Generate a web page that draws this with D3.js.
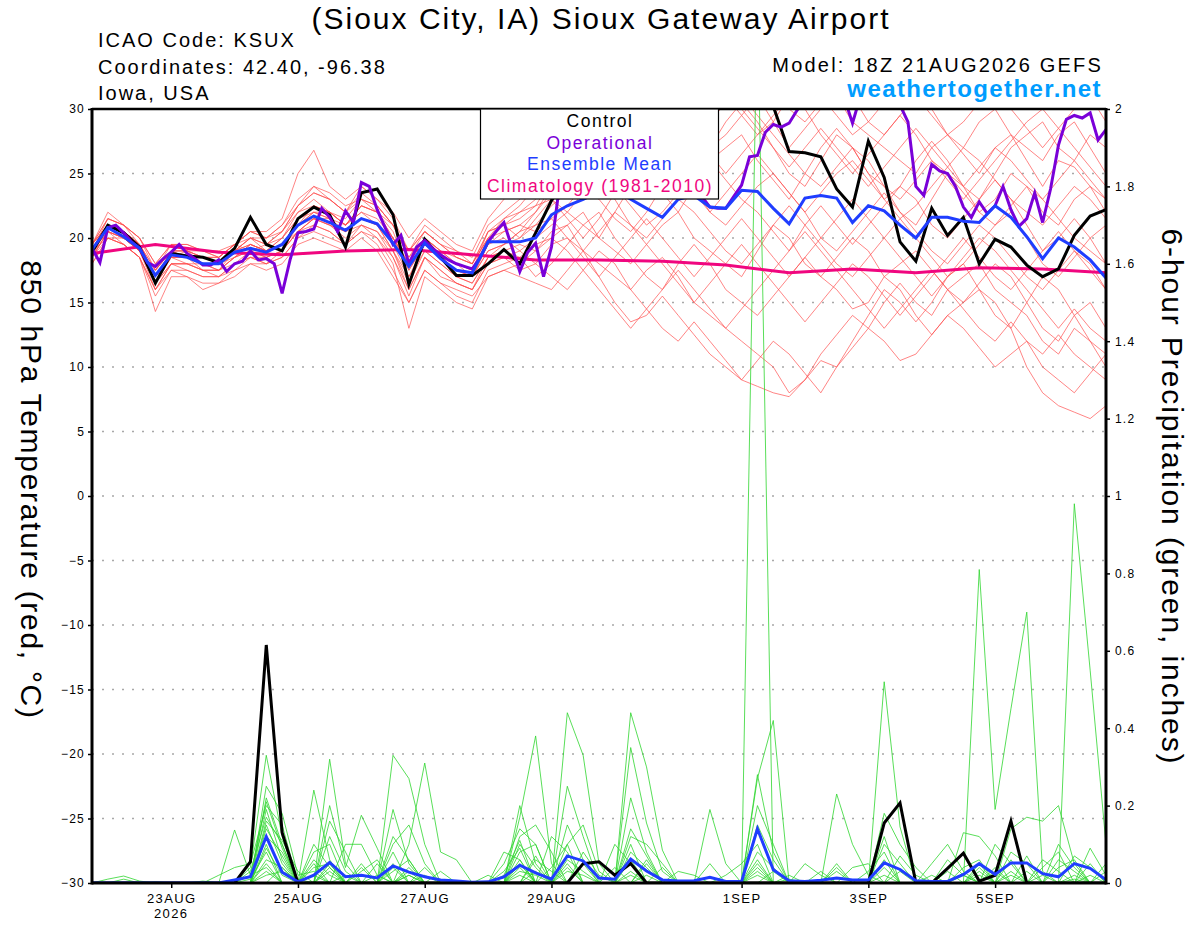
<!DOCTYPE html>
<html>
<head>
<meta charset="utf-8">
<script src="https://cdn.jsdelivr.net/npm/d3@7"></script>
<style>
  body { margin: 0; background: #fff; }
  svg text { font-family: "Liberation Sans", Arial, sans-serif; }
</style>
</head>
<body>
<div id="chart"></div>

<script>

// ---- data (run 18Z 21AUG2026) ----

// axis ticks
var tempTicks = [-30, -25, -20, -15, -10, -5, 0, 5, 10, 15, 20, 25, 30];
var precipTicks = [0, 0.2, 0.4, 0.6, 0.8, 1, 1.2, 1.4, 1.6, 1.8, 2];
var dateTicks = ["2026-08-23", "2026-08-25", "2026-08-27", "2026-08-29", "2026-09-01", "2026-09-03", "2026-09-05"];

// 850 hPa temperature, 6-hourly (65 steps, 0-384h)
var controlTemp = [18.9, 21.0, 20.4, 19.3, 16.5, 18.8, 18.6, 18.5, 18.1, 19.2,
  21.6, 19.5, 19.0, 21.5, 22.4, 21.8, 19.3, 23.5, 23.8, 21.8,
  16.4, 19.9, 18.5, 17.1, 17.1, 18.0, 19.1, 18.0, 20.4, 22.9,
  24.8, 26.2, 27.5, 28.6, 29.4, 30.2, 30.8, 31.2, 31.5, 31.8,
  32.0, 31.6, 31.0, 30.2, 26.7, 26.6, 26.3, 23.8, 22.4, 27.5,
  24.7, 19.7, 18.2, 22.3, 20.2, 21.6, 18.0, 19.9, 19.3, 17.9,
  17.0, 17.6, 20.2, 21.7, 22.2];

var meanTemp = [19.1, 20.8, 20.1, 19.2, 17.1, 18.7, 18.5, 18.0, 18.0, 18.9,
  19.2, 18.9, 19.5, 21.0, 21.7, 21.2, 20.6, 21.5, 21.1, 19.6,
  17.8, 19.6, 18.4, 17.5, 17.3, 19.7, 19.7, 19.7, 20.0, 21.8,
  22.5, 23.0, 23.6, 23.8, 23.0, 22.3, 21.6, 23.0, 23.3, 22.4,
  22.3, 23.7, 23.6, 22.3, 21.1, 23.1, 23.3, 23.1, 21.2, 22.5,
  22.1, 21.0, 20.0, 21.6, 21.6, 21.3, 21.2, 22.5, 21.6, 20.1,
  18.4, 20.0, 19.3, 18.3, 16.9];

// operational run, 3-hourly (129 steps)
var operationalTemp = [19.2, 18.1, 20.8, 21.0, 20.4, 19.7, 19.2, 18.1, 17.8, 18.4,
  18.9, 19.5, 18.8, 18.4, 17.9, 17.9, 18.3, 17.4, 18.0, 18.2,
  19.0, 18.3, 18.4, 18.0, 15.7, 18.3, 20.4, 20.5, 20.7, 22.3,
  21.6, 20.5, 22.1, 21.2, 24.3, 24.0, 22.2, 20.8, 19.5, 20.2,
  18.0, 19.3, 19.8, 19.2, 18.7, 18.3, 18.0, 17.8, 17.6, 18.5,
  19.7, 20.5, 21.2, 19.3, 17.4, 18.9, 19.6, 17.0, 19.3, 24.0,
  25.8, 26.8, 27.5, 28.0, 28.6, 29.0, 29.4, 29.8, 30.1, 30.4,
  30.6, 30.2, 29.0, 27.8, 26.5, 25.2, 24.2, 23.2, 22.4, 22.3,
  22.3, 23.2, 24.1, 26.3, 26.4, 28.2, 28.8, 28.6, 28.9, 29.9,
  30.8, 31.5, 32.0, 32.2, 31.8, 30.8, 28.9, 31.0, 31.8, 32.0,
  31.6, 31.0, 30.3, 29.0, 24.0, 23.3, 25.7, 25.2, 25.0, 24.0,
  22.4, 21.6, 22.8, 21.9, 22.5, 24.0, 22.2, 20.9, 21.5, 23.5,
  21.2, 23.8, 27.2, 29.2, 29.5, 29.3, 29.7, 27.6, 28.4];

// 1981-2010 climatology, one value per day at 18Z (17 days)
var climoTemp = [18.8, 19.5, 18.9, 18.7, 19.0, 19.1, 18.7, 18.3, 18.3, 18.2,
  17.9, 17.3, 17.6, 17.3, 17.7, 17.6, 17.3];

// the 20 perturbed members, 6-hourly
var memberTemp = [
  [19,21,20.5,19.5,17,18.5,19,18,17.5,19, 20,19,20,22,23,22,21,22,21.5,20, 18,20,19,18,17.5,20,21,22,23,24, 25,26,27,28.5,27,26,25,27,28,27, 28,29.5,31,29,27,28.5,30,31,29,28, 27,26,25,27,28,26.5,25,27,28,26, 24,26,25.5,24,23],
  [18.5,20.5,19.5,18.5,16,18,17.5,17,17,18, 18.5,18,19,20.5,21,20.5,19.5,20.5,20,18.5, 15.5,18.5,17,16.5,16,18,18.5,17.5,18,19.5, 20,19,18,17,16,17.5,18.5,17,15,14, 13,12,11,10,8,9,11,12.5,14,13, 15,16.5,15,14,16,17,18,16,15,14, 12,11,13,12,10],
  [19,21.5,21,20,17.5,19.5,19,19,18.5,19.5, 19,18.5,19,21,22.5,22,21,22.5,22,21, 18.5,20,19,18,17.5,20.5,21,20,21.5,23, 24.5,25,24,25.5,27,26,24,23,25,27, 29,30.5,29,27,25,24,26,28,27,25, 24,22,21,23,25,24,22,23,25,24, 22,21,23,24,22],
  [18,20,20,19,16.5,18,18,17.5,17.5,18.5, 19.5,19,19.5,20.5,21.5,21,20.5,21,20.5,19, 17,19,18,17,16.5,18.5,19,19.5,19,20.5, 21,22,20,19,18,19.5,21,22,20,19, 18,17,19,21,20,18,17,18.5,20,19, 17,16,14,12.5,14,15,16,15,13,10, 8,7,6.5,6,7],
  [19.5,21,20.5,19.5,17.5,19,19,18.5,18,19, 20,20,21,23,24,23,22,23.5,22.5,21, 19,20.5,19.5,19,18.5,21,22,23,24.5,25.5, 26,27.5,29,30.5,31,30,29,30.5,32,31, 30,31.5,33,32,30,29,30.5,32,31,29, 28,29.5,31,30,28,27,29,30,28,27, 26,28,29,27,25],
  [19,20,19.5,18.5,15.5,17.5,17,16.5,16.5,17.5, 18,17.5,18,19.5,20,19.5,19,20,19,17, 15,17.5,16.5,15.5,15,17.5,18,18.5,17,18, 19.5,21,22,20,18.5,17,16,18,19.5,18, 16,15,14,15.5,17,18.5,17,16,14.5,15, 17,18,19,17.5,16,15,16.5,18,17,15, 13,12,14,15,13],
  [19.5,22,21,20,18,19.5,19.5,19,18.5,19.5, 20.5,20,20.5,22.5,23.5,23,22,24,23,21.5, 19,21,20,19,18,20,21.5,22,22.5,23, 22,21,20,22,24,25,23.5,22,24,26, 27,28,26,24.5,23,25,27,28.5,27,25, 23,24,26,27.5,26,24,23,25,27,28, 29,27,26,28,27],
  [18.5,20,19.5,18.5,14.3,17,17,16,16.5,17, 18,18,18.5,20,21,20.5,19.5,21,20,18, 13,17,16,15,14.5,17,17.5,18,19,20, 21,19,17,15,13.5,14,15.5,14,12.5,11, 10,9,10.5,12,11,9.5,8,10,12,14, 16,15,13.5,15,17,18,16,14,13,15, 17,16,14,12,11],
  [19,21,20,19,17,18.5,18,18,18,18.5, 19,19.5,20,21.5,22,21.5,21,22,21,20, 18,19.5,18.5,17.5,17,19,19.5,20,21,22.5, 23.5,24,25,24,22.5,21,22,23.5,25,26, 24.5,23,22,20.5,19,21,22.5,21,19.5,21, 22.5,24,23,21,20,21.5,23,24.5,23,21, 19,20,21.5,20,18],
  [18.5,21,20.5,19.5,16.5,18.5,18.5,18,17.5,18.5, 19.5,19,19.5,21,22,22,21,22.5,22,20.5, 17.5,19.5,18.5,18,17,19.5,20,19,20,21, 22,23.5,24.5,26,27.5,28.5,27,26,27.5,29, 30.5,31,29.5,28,26.5,25,24,25.5,27,26, 24,23,24.5,26,25,23.5,22,21,22.5,24, 23,21.5,20,19,18],
  [19.5,21.5,21,19.5,17,19,18.5,18.5,18.5,19.5, 20,19.5,20.5,22,22.5,22,21.5,23,22,20, 18,20,19,18.5,18,20,20.5,21,22,24, 25.5,26.5,25,23,21,20,21.5,23,22,20.5, 19,18,19.5,21,22.5,21,19.5,18,17,18.5, 20,21.5,20,18.5,17,18,19.5,21,22,20, 18,17,18.5,20,21],
  [18.5,20.5,20,19,16.5,18,18,17.5,17.5,18, 18.5,18.5,19,20.5,21.5,21,20,21,20.5,18.5, 16,18.5,17.5,16.5,16,18,18.5,19,18,17, 16,17.5,19,18,16,14.5,13,12,13.5,12, 10.5,9,8.5,8,7.7,9,10.5,10,11.5,13, 12,10.5,11,12.5,14,13,11.5,10,11,12, 10,9,8,9.5,11],
  [19,20.5,20,19,17.5,19,18.5,18,18,19, 19.5,19,20,21.5,22.5,22,21,22.5,22,20, 17.5,19.5,18.5,17.5,17,19.5,20.5,21,20.5,21.5, 22.5,24,23,21.5,20.5,22,24,25.5,24,22, 21,22.5,24,25,23.5,22,20,19,20.5,22, 23.5,22,20.5,19,18,19.5,21,20,18.5,17, 16,17.5,19,18,16],
  [19.5,21.5,21,20,18,19.5,19.5,19,19,19.5, 20.5,20.5,21.5,25,26.8,24,23,24,23,22, 20,21.5,20.5,19.5,19,21.5,23,24.5,26,27, 28,29,30.5,32,31,29.5,28,29.5,31,32, 31,29.5,28,29,31,32.5,31,29.5,28,29, 30.5,32,31,29.5,28,29,30.5,31.5,30,28.5, 27,28.5,30,31,29],
  [18,20,19.5,18.5,16,17.5,17.5,17,17,17.5, 18.5,18,18.5,20,20.5,20,19.5,20.5,19.5,17.5, 15,17.5,16.5,16,15.5,17,17.5,17,16.5,16, 17.5,19,20.5,22,21,19.5,18,16.5,15,16.5, 18,19.5,18,16.5,15,13.5,15,16.5,18,17, 15.5,14,15.5,17,18.5,20,18.5,17,16,17.5, 19,20.5,19,17.5,16],
  [19.5,21,20.5,19.5,17,19,19,18.5,18,19, 20,19.5,20.5,22.5,24,23.5,22.5,23,22.5,21, 18.5,20.5,19.5,18.5,18,20.5,21.5,22.5,24,23, 21.5,20,21.5,23.5,25,26.5,28,29.5,28,26.5, 25,26.5,28,29.5,31,30,28,26.5,25,26.5, 28,29.5,28,26,24.5,23,24.5,26,27.5,29, 30,28.5,27,25.5,24],
  [18.5,20.5,20,19,16.5,18.5,18.5,17.5,17,18, 19,18.5,19,20.5,21.5,21.5,20.5,21.5,21,19, 16.5,19,18,17,16.5,18.5,19.5,20.5,21,21.5, 20,18.5,17,18.5,20,21.5,20,18.5,17,18.5, 20,21.5,20,18.5,17,18.5,20,21.5,23,21.5, 20,18.5,17,15.5,17,18.5,20,19,17.5,16, 14.5,13,14.5,13,12],
  [19,21,20.5,19.5,17,18.5,18.5,18.5,18,19, 19.5,19,19.5,21,22,21.5,20.5,21.5,21,19.5, 17,19.5,18.5,17.5,17,19,19.5,20.5,22,23.5, 24,25.5,27,28.5,29.5,28,26.5,25,23.5,22, 23.5,25,26.5,25,23.5,22,23.5,25,26,24.5, 23,21.5,22.5,24,25.5,27,26,24.5,23,22, 21,22.5,24,23,21.5],
  [19,20.5,20,19,16,18,18,17.5,17.5,18.5, 19,19,19.5,21,21.5,21,20.5,21.5,21,19, 16,18.5,17.5,16.5,16,18.5,19,18.5,19.5,20, 19,17.5,16,14.5,13,14.5,16,17.5,16,14.5, 13,14.5,16,17.5,19,20.5,19,17.5,16,14.5, 13,14.5,16,17.5,16,14.5,13,12,13.5,12, 11,12.5,11,10,9],
  [19.5,21,20.5,19.5,17.5,19,19,18.5,18.5,19.5, 20.5,20,21,22.5,23.5,23,22,23,22.5,21, 19,20.5,19.5,18.5,18,20.5,21,21.5,22.5,24.5, 26,27.5,29,30.5,31.5,30,28.5,27,28.5,30, 31.5,30,28.5,27,25.5,27,28.5,27,25.5,24, 25.5,27,28.5,27,25.5,24,25.5,27,26,24.5, 23,24.5,26,24.5,23]
];

// 6-hour precipitation (inches), 6-hourly (65 steps)
var controlPrecip = [0, 0, 0, 0, 0, 0, 0, 0, 0, 0,
  0.055, 0.615, 0.13, 0, 0, 0, 0, 0, 0, 0,
  0, 0, 0, 0, 0, 0, 0, 0, 0, 0,
  0, 0.05, 0.055, 0.02, 0.05, 0, 0, 0, 0, 0,
  0, 0, 0, 0, 0, 0, 0, 0, 0, 0,
  0.155, 0.207, 0, 0, 0.038, 0.077, 0.005, 0.02, 0.16, 0,
  0, 0, 0, 0, 0];

var meanPrecip = [0, 0, 0, 0, 0, 0, 0, 0, 0, 0.008,
  0.016, 0.12, 0.028, 0.003, 0.02, 0.053, 0.016, 0.02, 0.013, 0.044,
  0.028, 0.016, 0.008, 0.005, 0.002, 0.003, 0.016, 0.046, 0.026, 0.01,
  0.07, 0.057, 0.013, 0.01, 0.062, 0.031, 0.008, 0.005, 0.006, 0.015,
  0.004, 0.004, 0.14, 0.034, 0.006, 0.004, 0.007, 0.013, 0.008, 0.008,
  0.052, 0.035, 0.006, 0.004, 0.004, 0.022, 0.05, 0.022, 0.052, 0.052,
  0.024, 0.016, 0.05, 0.038, 0.008];

// members: only the wet steps as [step, inches], every other step is dry
var memberPrecip = [
  [[1,.01],[2,.018],[3,.005],[10,.04],[11,.33],[12,.12],[14,.05],[27,.2],[28,.05],[34,.44],[35,.30],[36,.085],[42,.05],[56,.81],[57,.19],[58,.45],[59,.70],[60,.03]],
  [[9,.137],[10,.02],[11,.21],[12,.09],[15,.32],[16,.05],[19,.05],[30,.44],[31,.33],[32,.05],[42,2.3],[50,.12],[62,.98],[63,.55],[64,.1]],
  [[8,.02],[9,.04],[10,.05],[11,.2],[12,.15],[14,.24],[15,.06],[19,.33],[20,.27],[21,.1],[27,.17],[28,.38],[29,.05],[34,.1],[42,.27],[43,.42],[47,.05],[50,.52],[51,.145]],
  [[2,.01],[11,.19],[12,.06],[15,.2],[16,.04],[17,.175],[18,.09],[20,.1],[21,.31],[22,.08],[23,.06],[30,.25],[31,.12],[34,.35],[35,.155],[36,.03],[42,.2],[43,.1],[55,.13],[56,.12],[57,.07]],
  [[10,.03],[11,.17],[12,.1],[15,.16],[16,.08],[19,.19],[20,.05],[26,.05],[27,.14],[28,.1],[30,.15],[31,.06],[34,.22],[35,.08],[39,.19],[40,.05],[47,.23],[48,.1],[49,.02],[58,.14],[59,.17],[60,.16],[61,.2],[62,.05]],
  [[11,.15],[12,.05],[14,.08],[15,.1],[18,.05],[27,.12],[28,.15],[29,.08],[33,.1],[34,.05],[42,.28],[43,.08],[50,.18],[51,.1],[52,.04],[55,.04],[56,.06],[63,.09],[64,.02]],
  [[11,.12],[12,.08],[16,.1],[17,.1],[18,.02],[22,.03],[26,.08],[27,.06],[30,.1],[31,.15],[32,.03],[37,.03],[38,.02],[45,.05],[46,.02],[53,.05],[54,.1],[55,.03],[61,.06],[62,.03]],
  [[11,.06],[12,.04],[19,.1],[20,.15],[21,.05],[28,.06],[29,.03],[34,.12],[35,.1],[36,.05],[44,.02],[50,.1],[51,.05],[57,.1],[58,.05],[60,.04],[61,.08]],
  [[10,.02],[11,.04],[14,.1],[15,.04],[17,.05],[27,.1],[28,.04],[30,.06],[31,.03],[40,.02],[41,.05],[42,.1],[48,.04],[49,.05],[56,.05],[62,.07],[63,.04]],
  [[7,.005],[11,.02],[12,.03],[13,.01],[15,.12],[16,.03],[19,.03],[20,.06],[25,.02],[27,.08],[28,.1],[34,.08],[35,.04],[43,.03],[51,.07],[52,.02],[58,.08],[59,.05],[64,.05]],
  [[11,.25],[12,.18],[13,.02],[14,.03],[20,.04],[27,.05],[29,.12],[30,.08],[35,.06],[42,.06],[47,.03],[54,.06],[55,.02],[60,.02]],
  [[4,.003],[11,.1],[14,.04],[15,.05],[19,.08],[26,.02],[27,.11],[31,.08],[32,.02],[36,.04],[42,.15],[43,.06],[49,.03],[50,.08],[57,.03],[61,.1],[62,.04]],
  [[11,.14],[12,.07],[17,.03],[18,.06],[21,.04],[28,.07],[30,.05],[34,.06],[44,.01],[56,.02],[58,.06],[63,.05]],
  [[10,.01],[11,.08],[15,.03],[20,.02],[27,.04],[31,.05],[35,.02],[42,.02],[50,.04],[55,.02],[59,.03],[62,.02]],
  [[11,.22],[12,.1],[16,.02],[19,.12],[20,.06],[29,.04],[30,.1],[34,.03],[42,.08],[43,.04],[51,.03],[56,.04],[60,.06],[61,.03]],
  [[11,.05],[14,.02],[17,.04],[21,.02],[27,.03],[28,.02],[33,.04],[39,.05],[47,.04],[53,.02],[58,.03]],
  [[11,.16],[12,.11],[13,.03],[15,.05],[20,.03],[26,.03],[27,.09],[34,.14],[35,.07],[42,.04],[50,.06],[57,.04],[59,.07],[64,.03]],
  [[11,.09],[12,.02],[14,.06],[15,.02],[19,.04],[28,.03],[30,.03],[31,.02],[35,.05],[46,.03],[54,.03],[61,.04],[62,.06]],
  [[12,.04],[15,.04],[20,.02],[27,.02],[30,.04],[42,.03],[56,.03],[63,.02]],
  [[11,.03],[18,.02],[27,.06],[34,.02],[50,.02],[58,.02],[62,.01]]
];

// ---- chart ----

var W = 1200, H = 927;
var margin = {top: 109, right: 94, bottom: 44, left: 92},
    width = W - margin.left - margin.right,
    height = H - margin.top - margin.bottom;

var runStart = Date.UTC(2026, 7, 21, 18);
function leadTime(hours) { return new Date(runStart + hours * 3600 * 1000); }

// turn a list of values into {t, v} points, stepHours apart
function toSeries(values, stepHours) {
  return values.map(function(v, i) { return {t: leadTime(i * stepHours), v: v}; });
}
function sparseToSeries(pairs) {
  var vals = d3.range(65).map(function() { return 0; });
  pairs.forEach(function(p) { vals[p[0]] = p[1]; });
  return toSeries(vals, 6);
}

var svg = d3.select("#chart")
  .append("svg")
    .attr("width", W)
    .attr("height", H);

var g = svg.append("g")
    .attr("transform", "translate(" + margin.left + "," + margin.top + ")");

var x = d3.scaleUtc()
  .domain([leadTime(0), leadTime(384)])
  .range([0, width]);
var yT = d3.scaleLinear().domain([-30, 30]).range([height, 0]);
var yP = d3.scaleLinear().domain([0, 2]).range([height, 0]);

var tempLine = d3.line()
  .x(function(d) { return x(d.t); })
  .y(function(d) { return yT(d.v); });
var precipLine = d3.line()
  .x(function(d) { return x(d.t); })
  .y(function(d) { return yP(d.v); });

// dotted grid on the temperature ticks
g.append("g").selectAll("line")
  .data(tempTicks.filter(function(t) { return t > -30 && t < 30; }))
  .enter().append("line")
    .attr("x1", 0).attr("x2", width)
    .attr("y1", function(d) { return yT(d); })
    .attr("y2", function(d) { return yT(d); })
    .attr("stroke", "#a8a8a8")
    .attr("stroke-width", 1.3)
    .attr("stroke-dasharray", "2,8");

g.append("clipPath").attr("id", "plotClip")
  .append("rect").attr("width", width).attr("height", height);

var lines = g.append("g").attr("clip-path", "url(#plotClip)");

// red temperature members
lines.append("g").selectAll("path")
  .data(memberTemp)
  .enter().append("path")
    .attr("d", function(d) { return tempLine(toSeries(d, 6)); })
    .attr("fill", "none")
    .attr("stroke", "#ff4a4a")
    .attr("stroke-opacity", 0.85)
    .attr("stroke-width", 0.8);

// green precip members
lines.append("g").selectAll("path")
  .data(memberPrecip)
  .enter().append("path")
    .attr("d", function(d) { return precipLine(sparseToSeries(d)); })
    .attr("fill", "none")
    .attr("stroke", "#2ed62e")
    .attr("stroke-width", 0.8);

// climatology (daily)
lines.append("path")
  .attr("d", tempLine(toSeries(climoTemp, 24)))
  .attr("fill", "none").attr("stroke", "#f0067f").attr("stroke-width", 3);

// control
lines.append("path")
  .attr("d", tempLine(toSeries(controlTemp, 6)))
  .attr("fill", "none").attr("stroke", "#000").attr("stroke-width", 3);
lines.append("path")
  .attr("d", precipLine(toSeries(controlPrecip, 6)))
  .attr("fill", "none").attr("stroke", "#000").attr("stroke-width", 3);

// operational
lines.append("path")
  .attr("d", tempLine(toSeries(operationalTemp, 3)))
  .attr("fill", "none").attr("stroke", "#7a00d8").attr("stroke-width", 3);

// ensemble mean
lines.append("path")
  .attr("d", tempLine(toSeries(meanTemp, 6)))
  .attr("fill", "none").attr("stroke", "#1f3dff").attr("stroke-width", 3);
lines.append("path")
  .attr("d", precipLine(toSeries(meanPrecip, 6)))
  .attr("fill", "none").attr("stroke", "#1f3dff").attr("stroke-width", 3);

// axes
var leftAxis = g.append("g")
  .call(d3.axisLeft(yT).tickValues(tempTicks).tickSize(4).tickPadding(3));
var rightAxis = g.append("g")
  .attr("transform", "translate(" + width + ",0)")
  .call(d3.axisRight(yP).tickValues(precipTicks).tickSize(4).tickPadding(5)
    .tickFormat(d3.format("~g")));
var bottomAxis = g.append("g")
  .attr("transform", "translate(0," + height + ")")
  .call(d3.axisBottom(x)
    .tickValues(dateTicks.map(function(s) { return new Date(s + "T00:00:00Z"); }))
    .tickSize(5).tickPadding(6)
    .tickFormat(function(d) { return d3.utcFormat("%-d%b")(d).toUpperCase(); }));

[leftAxis, rightAxis, bottomAxis].forEach(function(a) {
  a.select(".domain").remove();
  a.attr("font-family", null);
  a.selectAll(".tick line").attr("stroke", "#000").attr("stroke-width", 1.5);
  a.selectAll(".tick text").attr("fill", "#000")
    .style("font-size", "12px").style("letter-spacing", "1.2px");
});
bottomAxis.selectAll(".tick text").style("font-size", "13px").style("letter-spacing", "1.4px");

// year under the first date
g.append("text")
  .attr("x", x(new Date(dateTicks[0] + "T00:00:00Z")))
  .attr("y", height + 35)
  .attr("text-anchor", "middle")
  .style("font-size", "13px")
  .style("letter-spacing", "1.4px")
  .text("2026");

// plot frame
g.append("line").attr("x1", 0).attr("x2", 0).attr("y1", -1).attr("y2", height + 1.5)
  .attr("stroke", "#000").attr("stroke-width", 3);
g.append("line").attr("x1", width).attr("x2", width).attr("y1", -1).attr("y2", height + 1.5)
  .attr("stroke", "#000").attr("stroke-width", 3);
g.append("line").attr("x1", 0).attr("x2", width).attr("y1", height).attr("y2", height)
  .attr("stroke", "#000").attr("stroke-width", 3);
g.append("line").attr("x1", 0).attr("x2", width).attr("y1", 0).attr("y2", 0)
  .attr("stroke", "#000").attr("stroke-width", 2.5);

// legend box
var legend = svg.append("g");
legend.append("rect")
  .attr("x", 480.5).attr("y", 109).attr("width", 238).attr("height", 90)
  .attr("fill", "#fff").attr("stroke", "#000").attr("stroke-width", 1.2);
var legendItems = [
  {label: "Control", color: "#000"},
  {label: "Operational", color: "#7a00d8"},
  {label: "Ensemble Mean", color: "#1f3dff"},
  {label: "Climatology (1981-2010)", color: "#f0067f"}
];
legend.selectAll("text.item")
  .data(legendItems)
  .enter().append("text")
    .attr("class", "item")
    .attr("x", 600)
    .attr("y", function(d, i) { return 127 + i * 21.6; })
    .attr("text-anchor", "middle")
    .attr("fill", function(d) { return d.color; })
    .style("font-size", "17.5px")
    .style("letter-spacing", "1.5px")
    .text(function(d) { return d.label; });

// header text
svg.append("text")
  .attr("x", 601).attr("y", 29)
  .attr("text-anchor", "middle")
  .style("font-size", "30px")
  .style("letter-spacing", "2px")
  .text("(Sioux City, IA) Sioux Gateway Airport");

var info = ["ICAO Code: KSUX", "Coordinates: 42.40, -96.38", "Iowa, USA"];
svg.selectAll("text.info")
  .data(info)
  .enter().append("text")
    .attr("class", "info")
    .attr("x", 98)
    .attr("y", function(d, i) { return 47 + i * 26.5; })
    .style("font-size", "20px")
    .style("letter-spacing", "2px")
    .text(function(d) { return d; });

svg.append("text")
  .attr("x", 1103).attr("y", 72)
  .attr("text-anchor", "end")
  .style("font-size", "20px")
  .style("letter-spacing", "2.2px")
  .text("Model: 18Z 21AUG2026 GEFS");

svg.append("text")
  .attr("x", 1102).attr("y", 97)
  .attr("text-anchor", "end")
  .attr("fill", "#009dff")
  .style("font-size", "24px")
  .style("font-weight", "bold")
  .style("letter-spacing", "1.4px")
  .text("weathertogether.net");

// axis titles, both read top to bottom
svg.append("text")
  .attr("transform", "translate(21,490) rotate(90)")
  .attr("text-anchor", "middle")
  .style("font-size", "30px")
  .style("letter-spacing", "1.7px")
  .text("850 hPa Temperature (red, \u00B0C)");

svg.append("text")
  .attr("transform", "translate(1162,497) rotate(90)")
  .attr("text-anchor", "middle")
  .style("font-size", "30px")
  .style("letter-spacing", "1.9px")
  .text("6-hour Precipitation (green, inches)");

</script>
</body>
</html>
